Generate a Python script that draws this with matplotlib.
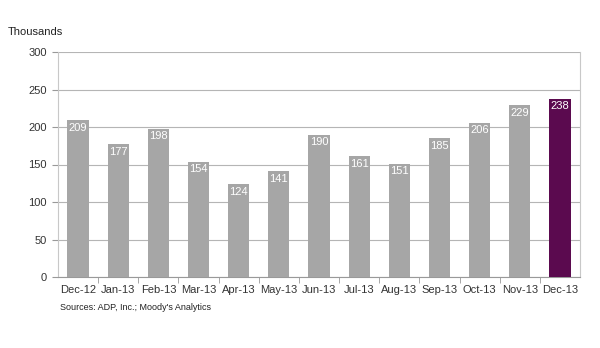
import matplotlib
matplotlib.use("Agg")
import matplotlib.pyplot as plt

categories = ["Dec-12", "Jan-13", "Feb-13", "Mar-13", "Apr-13", "May-13", "Jun-13",
              "Jul-13", "Aug-13", "Sep-13", "Oct-13", "Nov-13", "Dec-13"]
values = [209, 177, 198, 154, 124, 141, 190, 161, 151, 185, 206, 229, 238]
yticks = [0, 50, 100, 150, 200, 250, 300]

plt.rcParams['font.family'] = ['Liberation Sans', 'DejaVu Sans']

fig = plt.figure(figsize=(6.0, 3.48), dpi=100)
ax = fig.add_axes([58/600, 1-277/348, 522/600, 225/348])

colors = ["#a6a6a6"] * (len(values) - 1) + ["#5b0a4f"]
x = list(range(len(categories)))
bars = ax.bar(x, values, width=0.53, color=colors, zorder=3)

for xi, v in zip(x, values):
    ax.text(xi, v - 3.5, str(v), ha="center", va="top", color="white", fontsize=8, zorder=4)

ax.set_xlim(-0.5, len(categories) - 0.5)
ax.set_ylim(0, 300)
ax.set_yticks(yticks)
ax.set_yticklabels([str(t) for t in yticks], fontsize=8, color="#333333")
ax.set_xticks(x)
ax.set_xticklabels(categories, fontsize=8, color="#333333")
ax.tick_params(axis="x", length=0, pad=6)
ax.tick_params(axis="y", length=4, color="#999999", pad=4)
ax.set_xticks([i + 0.5 for i in range(len(categories) - 1)], minor=True)
ax.tick_params(axis="x", which="minor", length=4, color="#999999")

ax.yaxis.grid(True, color="#b5b5b5", linewidth=0.8, zorder=0)
for s in ["left", "right", "bottom"]:
    ax.spines[s].set_color("#c8c8c8")
    ax.spines[s].set_linewidth(0.8)
ax.spines["bottom"].set_color("#999999")
ax.spines["top"].set_visible(False)

fig.text(8/600, 1-32/348, "Thousands", fontsize=8, color="#222222", va="center", ha="left")
fig.text(60/600, 1-307/348, "Sources: ADP, Inc.; Moody's Analytics", fontsize=6.5, color="#222222",
         va="center", ha="left")

fig.savefig("out.png", dpi=100)
